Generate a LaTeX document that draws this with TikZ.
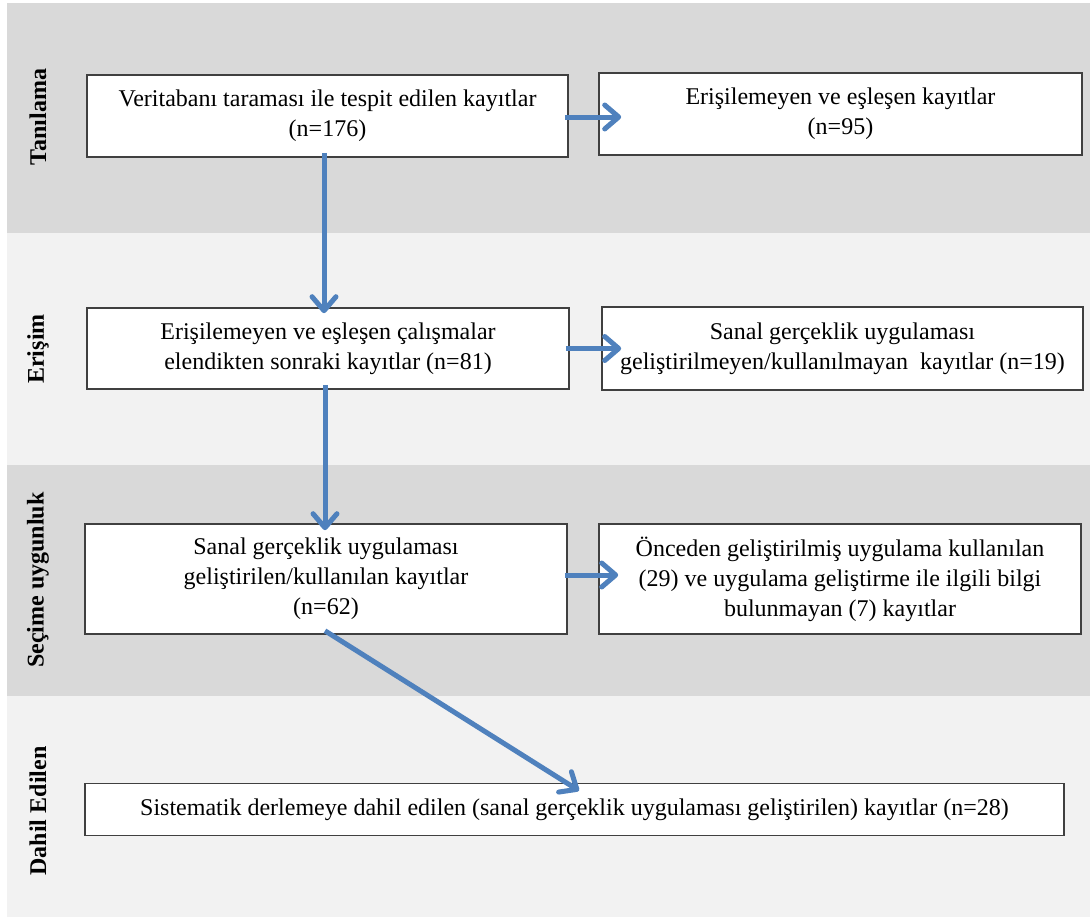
\documentclass[tikz,border=0pt]{standalone}
\usepackage{fontspec}
\setmainfont{Liberation Serif}
\usetikzlibrary{arrows.meta}
\definecolor{banddark}{HTML}{D9D9D9}
\definecolor{bandlight}{HTML}{F2F2F2}
\definecolor{arrowblue}{HTML}{4F81BD}
\definecolor{boxline}{HTML}{404040}
\tikzset{
  stagebox/.style={draw=boxline, line width=1.6pt, fill=white, inner sep=0pt,
    align=center, font=\fontsize{24}{30}\selectfont},
  stagelabel/.style={rotate=90, font=\fontsize{24}{28}\selectfont\bfseries, inner sep=0pt},
  flowarrow/.style={draw=arrowblue, line width=5pt,
    -{Straight Barb[length=14pt,width=24pt,round]}},
}
\begin{document}
\begin{tikzpicture}[x=1pt,y=1pt]
\useasboundingbox (0,0) rectangle (1090,-918);
\fill[white] (0,0) rectangle (1090,-918);
% bands
\fill[banddark]  (7,-3)   rectangle (1090,-233);
\fill[bandlight] (7,-233) rectangle (1090,-465);
\fill[banddark]  (7,-465) rectangle (1090,-696);
\fill[bandlight] (7,-696) rectangle (1090,-917);
% stage labels
\node[stagelabel] (L1) at (38,-117) {Tanılama};
\node[stagelabel] (L2) at (38,-349) {Erişim};
\node[stagelabel] (L3) at (38,-580) {Seçime uygunluk};
\node[stagelabel] (L4) at (38,-811) {Dahil Edilen};
% boxes
\node[stagebox, minimum width=481pt, minimum height=82pt] (B1) at (327.5,-116)
  {\raisebox{-2pt}{\parbox{480pt}{\centering Veritabanı taraması ile tespit edilen kayıtlar\\(n=176)}}};
\node[stagebox, minimum width=483pt, minimum height=82pt] (B2) at (840.5,-114)
  {\raisebox{-2pt}{\parbox{480pt}{\centering Erişilemeyen ve eşleşen kayıtlar\\(n=95)}}};
\node[stagebox, minimum width=482pt, minimum height=81pt] (B3) at (328,-348.5)
  {Erişilemeyen ve eşleşen çalışmalar\\elendikten sonraki kayıtlar (n=81)};
\node[stagebox, minimum width=481pt, minimum height=83pt] (B4) at (842.5,-348.5)
  {Sanal gerçeklik uygulaması\\geliştirilmeyen/kullanılmayan~ kayıtlar (n=19)};
\node[stagebox, minimum width=482pt, minimum height=110pt] (B5) at (326,-579)
  {Sanal gerçeklik uygulaması\\geliştirilen/kullanılan kayıtlar\\(n=62)};
\node[stagebox, minimum width=482pt, minimum height=110pt] (B6) at (840,-579)
  {Önceden geliştirilmiş uygulama kullanılan\\(29) ve uygulama geliştirme ile ilgili bilgi\\bulunmayan (7) kayıtlar};
\node[stagebox, minimum width=979pt, minimum height=52pt] (B7) at (574.5,-809.5)
  {Sistematik derlemeye dahil edilen (sanal gerçeklik uygulaması geliştirilen) kayıtlar (n=28)};
% arrows
\draw[flowarrow] ([shift={(-3.5,5)}]B1.south) -- ([shift={(-3.5,-6)}]B3.north -| B1.south);
\draw[flowarrow] ([shift={(-4,-1)}]B1.east) -- ([shift={(23,-3)}]B2.west);
\draw[flowarrow] ([shift={(-3,5)}]B3.south) -- ([shift={(-1,-7)}]B5.north);
\draw[flowarrow] ([shift={(-4,0)}]B3.east) -- ([shift={(20,0)}]B4.west);
\draw[flowarrow] ([shift={(-3,4)}]B5.east) -- ([shift={(20,4)}]B6.west);
\draw[flowarrow] ([shift={(-1,4)}]B5.south) -- ([shift={(4.5,-8)}]B7.north);
\end{tikzpicture}
\end{document}
